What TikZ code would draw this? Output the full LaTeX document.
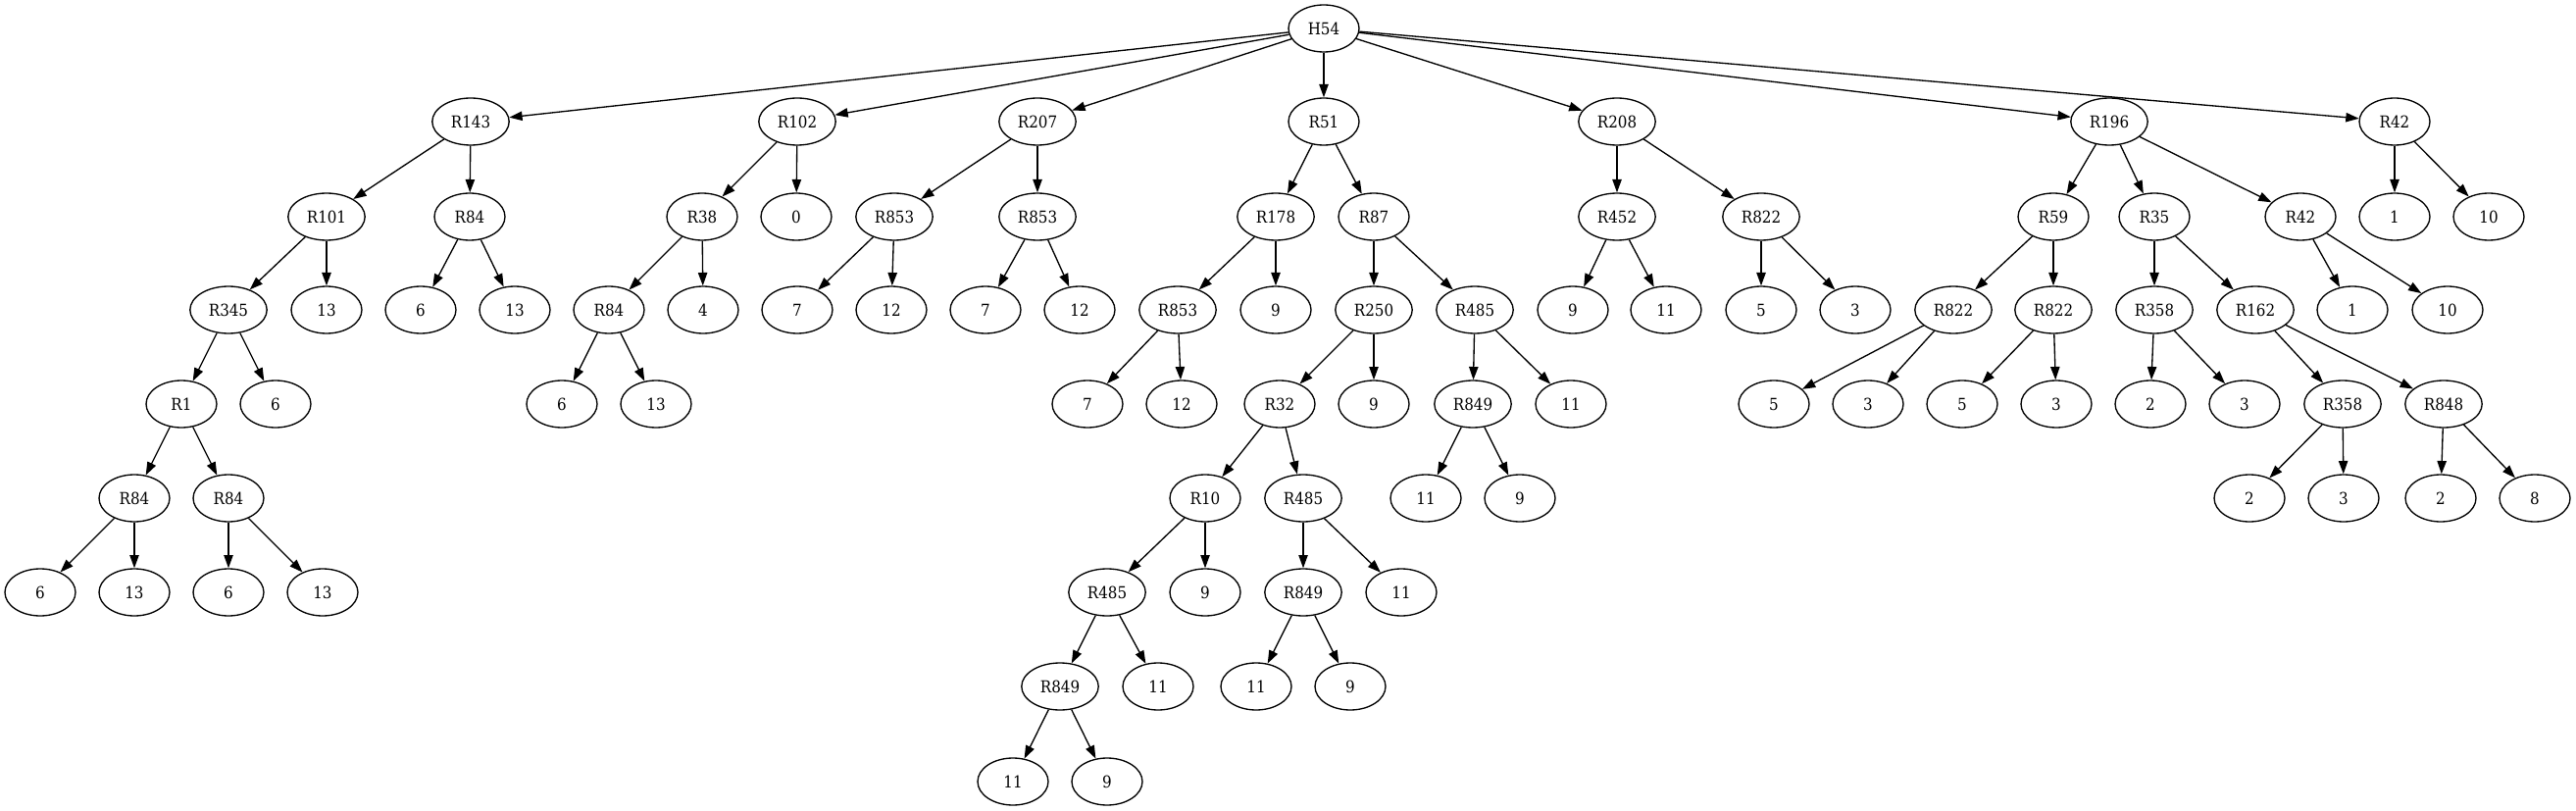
\documentclass[tikz,border=0pt]{standalone}
\usepackage{fontspec}
\setmainfont{DejaVu Serif}[FakeStretch=0.9]
\usepackage{tikz}
\usetikzlibrary{arrows.meta}
\usetikzlibrary{shapes.geometric}

\begin{document}
\begin{tikzpicture}[x=0.75pt,y=-0.75pt,
        knot/.style={draw,ellipse,line width=1pt,minimum width=54pt,minimum height=36pt,inner xsep=5.7pt,inner ysep=2pt,font=\fontsize{12.6}{15}\selectfont},
        link/.style={line width=1pt,-{Triangle[length=10pt,width=7pt]}}]
        \useasboundingbox (0,0) rectangle (2627,827);

        \node [knot] (h) at (1350,29) {H54};

        \node [knot] (a) at (480,124) {R143};
        \node [knot] (b) at (813,124) {R102};
        \node [knot] (c) at (1058,124) {R207};
        \node [knot] (d) at (1350,124) {R51};
        \node [knot] (e) at (1649,124) {R208};
        \node [knot] (f) at (2151,124) {R196};
        \node [knot] (g) at (2442,124) {R42};

        \node [knot] (aa) at (333,221) {R101};
        \node [knot] (aaa) at (233,316) {R345};
        \node [knot] (aaaa) at (185,412) {R1};
        \node [knot] (aaaaa) at (137,508) {R84};
        \node [knot] (aaaaaa) at (41,604) {6};
        \node [knot] (aaaaab) at (137,604) {13};
        \node [knot] (aaaab) at (233,508) {R84};
        \node [knot] (aaaaba) at (233,604) {6};
        \node [knot] (aaaabb) at (329,604) {13};
        \node [knot] (aaab) at (281,412) {6};
        \node [knot] (aab) at (333,316) {13};
        \node [knot] (ab) at (479,221) {R84};
        \node [knot] (aba) at (429,316) {6};
        \node [knot] (abb) at (525,316) {13};

        \node [knot] (ba) at (716,221) {R38};
        \node [knot] (baa) at (621,316) {R84};
        \node [knot] (baaa) at (573,412) {6};
        \node [knot] (baab) at (669,412) {13};
        \node [knot] (bab) at (717,316) {4};
        \node [knot] (bb) at (812,221) {0};

        \node [knot] (ca) at (912,221) {R853};
        \node [knot] (caa) at (813,316) {7};
        \node [knot] (cab) at (909,316) {12};
        \node [knot] (cb) at (1058,221) {R853};
        \node [knot] (cba) at (1005,316) {7};
        \node [knot] (cbb) at (1101,316) {12};

        \node [knot] (da) at (1301,221) {R178};
        \node [knot] (daa) at (1201,316) {R853};
        \node [knot] (daaa) at (1109,412) {7};
        \node [knot] (daab) at (1205,412) {12};
        \node [knot] (dab) at (1301,316) {9};
        \node [knot] (db) at (1401,221) {R87};
        \node [knot] (dba) at (1401,316) {R250};
        \node [knot] (dbaa) at (1305,412) {R32};
        \node [knot] (dbaaa) at (1229,508) {R10};
        \node [knot] (dbaaaa) at (1129,604) {R485};
        \node [knot] (dbaaaaa) at (1081,700) {R849};
        \node [knot] (dbaaaaaa) at (1033,797) {11};
        \node [knot] (dbaaaaab) at (1129,797) {9};
        \node [knot] (dbaaaab) at (1181,700) {11};
        \node [knot] (dbaaab) at (1229,604) {9};
        \node [knot] (dbaab) at (1329,508) {R485};
        \node [knot] (dbaaba) at (1329,604) {R849};
        \node [knot] (dbaabaa) at (1281,700) {11};
        \node [knot] (dbaabab) at (1377,700) {9};
        \node [knot] (dbaabb) at (1429,604) {11};
        \node [knot] (dbab) at (1401,412) {9};
        \node [knot] (dbb) at (1504,316) {R485};
        \node [knot] (dbba) at (1502,412) {R849};
        \node [knot] (dbbaa) at (1454,508) {11};
        \node [knot] (dbbab) at (1550,508) {9};
        \node [knot] (dbbb) at (1602,412) {11};

        \node [knot] (ea) at (1649,221) {R452};
        \node [knot] (eaa) at (1604,316) {9};
        \node [knot] (eab) at (1699,316) {11};
        \node [knot] (eb) at (1796,221) {R822};
        \node [knot] (eba) at (1796,316) {5};
        \node [knot] (ebb) at (1892,316) {3};

        \node [knot] (fa) at (2094,221) {R59};
        \node [knot] (faa) at (1992,316) {R822};
        \node [knot] (faaa) at (1809,412) {5};
        \node [knot] (faab) at (1905,412) {3};
        \node [knot] (fab) at (2094,316) {R822};
        \node [knot] (faba) at (2001,412) {5};
        \node [knot] (fabb) at (2097,412) {3};
        \node [knot] (fb) at (2197,221) {R35};
        \node [knot] (fba) at (2197,316) {R358};
        \node [knot] (fbaa) at (2193,412) {2};
        \node [knot] (fbab) at (2289,412) {3};
        \node [knot] (fbb) at (2300,316) {R162};
        \node [knot] (fbba) at (2389,412) {R358};
        \node [knot] (fbbaa) at (2294,508) {2};
        \node [knot] (fbbab) at (2390,508) {3};
        \node [knot] (fbbb) at (2492,412) {R848};
        \node [knot] (fbbba) at (2489,508) {2};
        \node [knot] (fbbbb) at (2585,508) {8};
        \node [knot] (fc) at (2346,221) {R42};
        \node [knot] (fca) at (2399,316) {1};
        \node [knot] (fcb) at (2496,316) {10};

        \node [knot] (ga) at (2442,221) {1};
        \node [knot] (gb) at (2538,221) {10};

        \path [link] (h) edge (a) edge (b) edge (c) edge (d) edge (e) edge (f) edge (g);

        \path [link] (a) edge (aa) edge (ab);
        \path [link] (aa) edge (aaa) edge (aab);
        \path [link] (aaa) edge (aaaa) edge (aaab);
        \path [link] (aaaa) edge (aaaaa) edge (aaaab);
        \path [link] (aaaaa) edge (aaaaaa) edge (aaaaab);
        \path [link] (aaaab) edge (aaaaba) edge (aaaabb);
        \path [link] (ab) edge (aba) edge (abb);

        \path [link] (b) edge (ba) edge (bb);
        \path [link] (ba) edge (baa) edge (bab);
        \path [link] (baa) edge (baaa) edge (baab);

        \path [link] (c) edge (ca) edge (cb);
        \path [link] (ca) edge (caa) edge (cab);
        \path [link] (cb) edge (cba) edge (cbb);

        \path [link] (d) edge (da) edge (db);
        \path [link] (da) edge (daa) edge (dab);
        \path [link] (daa) edge (daaa) edge (daab);
        \path [link] (db) edge (dba) edge (dbb);
        \path [link] (dba) edge (dbaa) edge (dbab);
        \path [link] (dbaa) edge (dbaaa) edge (dbaab);
        \path [link] (dbaaa) edge (dbaaaa) edge (dbaaab);
        \path [link] (dbaaaa) edge (dbaaaaa) edge (dbaaaab);
        \path [link] (dbaaaaa) edge (dbaaaaaa) edge (dbaaaaab);
        \path [link] (dbaab) edge (dbaaba) edge (dbaabb);
        \path [link] (dbaaba) edge (dbaabaa) edge (dbaabab);
        \path [link] (dbb) edge (dbba) edge (dbbb);
        \path [link] (dbba) edge (dbbaa) edge (dbbab);

        \path [link] (e) edge (ea) edge (eb);
        \path [link] (ea) edge (eaa) edge (eab);
        \path [link] (eb) edge (eba) edge (ebb);

        \path [link] (f) edge (fa) edge (fb) edge (fc);
        \path [link] (fa) edge (faa) edge (fab);
        \path [link] (faa) edge (faaa) edge (faab);
        \path [link] (fab) edge (faba) edge (fabb);
        \path [link] (fb) edge (fba) edge (fbb);
        \path [link] (fba) edge (fbaa) edge (fbab);
        \path [link] (fbb) edge (fbba) edge (fbbb);
        \path [link] (fbba) edge (fbbaa) edge (fbbab);
        \path [link] (fbbb) edge (fbbba) edge (fbbbb);
        \path [link] (fc) edge (fca) edge (fcb);

        \path [link] (g) edge (ga) edge (gb);
    \end{tikzpicture}
\end{document}
